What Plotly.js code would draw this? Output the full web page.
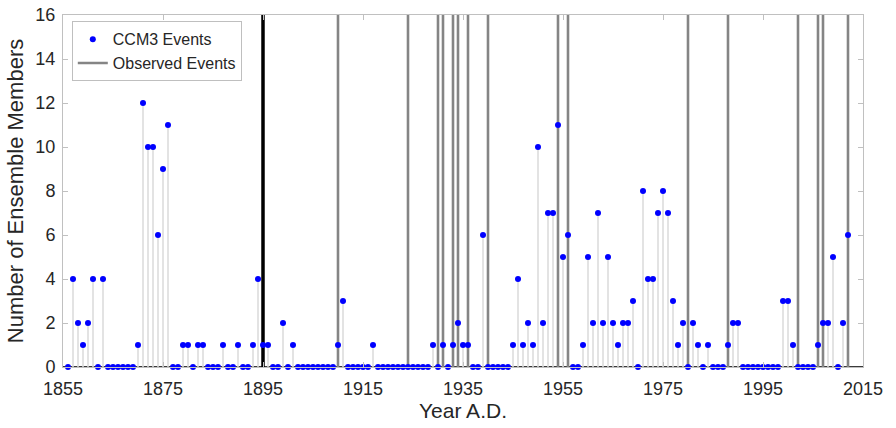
<!DOCTYPE html>
<html>
<head>
<meta charset="utf-8">
<script src="https://cdn.plot.ly/plotly-3.0.1.min.js"></script>
<style>html,body{margin:0;padding:0;background:#fff;}#chart{width:896px;height:428px;}</style>
</head>
<body>
<div id="chart"></div>
<script>
// CCM3 ensemble event counts per year, 1856-2012
const startYear = 1856;
const ccm3Counts = [
  0,4,2,1,2,4,0,4,0,0,            // 1856-1865
  0,0,0,0,1,12,10,10,6,9,         // 1866-1875
  11,0,0,1,1,0,1,1,0,0,           // 1876-1885
  0,1,0,0,1,0,0,1,4,1,            // 1886-1895
  1,0,0,2,0,1,0,0,0,0,            // 1896-1905
  0,0,0,0,1,3,0,0,0,0,            // 1906-1915
  0,1,0,0,0,0,0,0,0,0,            // 1916-1925
  0,0,0,1,0,1,0,1,2,1,            // 1926-1935
  1,0,0,6,0,0,0,0,0,1,            // 1936-1945
  4,1,2,1,10,2,7,7,11,5,          // 1946-1955
  6,0,0,1,5,2,7,2,5,2,            // 1956-1965
  1,2,2,3,0,8,4,4,7,8,            // 1966-1975
  7,3,1,2,0,2,1,0,1,0,            // 1976-1985
  0,0,1,2,2,0,0,0,0,0,            // 1986-1995
  0,0,0,3,3,1,0,0,0,0,            // 1996-2005
  1,2,2,5,0,2,6                   // 2006-2012
];
const years = ccm3Counts.map((_, i) => startYear + i);

// Observed events (vertical lines); 1895 drawn in black
const observedYears = [1910,1924,1930,1931,1933,1934,1936,1940,1954,1956,1980,1988,2002,2006,2007,2012];
const majorObservedYears = [1895];

const xTicks = [1855,1875,1895,1915,1935,1955,1975,1995,2015];
const yTicks = [0,2,4,6,8,10,12,14,16];

// build stem segments from data
const stemX = [], stemY = [];
years.forEach((yr, i) => { stemX.push(yr, yr, null); stemY.push(0, ccm3Counts[i], null); });

function vlines(arr) {
  const x = [], y = [];
  arr.forEach(yr => { x.push(yr, yr, null); y.push(0, 16, null); });
  return {x, y};
}
const obs = vlines(observedYears);
const obsMajor = vlines(majorObservedYears);

const FONT = '"Liberation Sans", Arial, Helvetica, sans-serif';
const TXT = '#262626';

const traces = [
  {x: stemX, y: stemY, mode: 'lines', line: {color: '#dadada', width: 1.5}, hoverinfo: 'skip', showlegend: false},
  {x: obs.x, y: obs.y, mode: 'lines', name: 'Observed Events', line: {color: '#858585', width: 2.6}, legendrank: 2},
  {x: obsMajor.x, y: obsMajor.y, mode: 'lines', line: {color: '#000000', width: 3.5}, showlegend: false},
  {x: years, y: ccm3Counts, mode: 'markers', name: 'CCM3 Events', marker: {color: '#0000ff', size: 6}, cliponaxis: false, legendrank: 1}
];

const layout = {
  width: 896, height: 428,
  margin: {l: 63, r: 33, t: 15, b: 61},
  paper_bgcolor: '#ffffff', plot_bgcolor: '#ffffff',
  font: {family: FONT, color: TXT, size: 18},
  showlegend: true,
  legend: {
    x: 0.011, y: 0.982, xanchor: 'left', yanchor: 'top',
    bgcolor: '#ffffff', bordercolor: '#bfbfbf', borderwidth: 1,
    font: {family: FONT, size: 16, color: TXT},
    tracegroupgap: 0, itemwidth: 30
  },
  xaxis: {
    range: [1855, 2015], tickvals: xTicks, ticktext: xTicks.map(String),
    ticks: 'inside', ticklen: 5, tickcolor: '#c0c0c0',
    showline: true, linecolor: '#c0c0c0', linewidth: 1, mirror: 'ticks',
    showgrid: false, zeroline: false, ticklabelstandoff: 5,
    tickfont: {family: FONT, size: 18, color: TXT},
    title: {text: 'Year A.D.', font: {family: FONT, size: 21, color: TXT}, standoff: 3}
  },
  yaxis: {
    range: [0, 16], tickvals: yTicks, ticktext: yTicks.map(String),
    ticks: 'inside', ticklen: 5, tickcolor: '#c0c0c0',
    showline: true, linecolor: '#c0c0c0', linewidth: 1, mirror: 'ticks',
    showgrid: false, zeroline: false, ticklabelstandoff: 3,
    tickfont: {family: FONT, size: 18, color: TXT},
    title: {text: 'Number of Ensemble Members', font: {family: FONT, size: 22, color: TXT}, standoff: 5}
  },
  shapes: [
    {type: 'line', xref: 'paper', yref: 'y', x0: 0, x1: 1, y0: 0, y1: 0, line: {color: '#3a3a3a', width: 2}, layer: 'below'}
  ]
};

Plotly.newPlot('chart', traces, layout, {displayModeBar: false, staticPlot: true});
</script>
</body>
</html>
